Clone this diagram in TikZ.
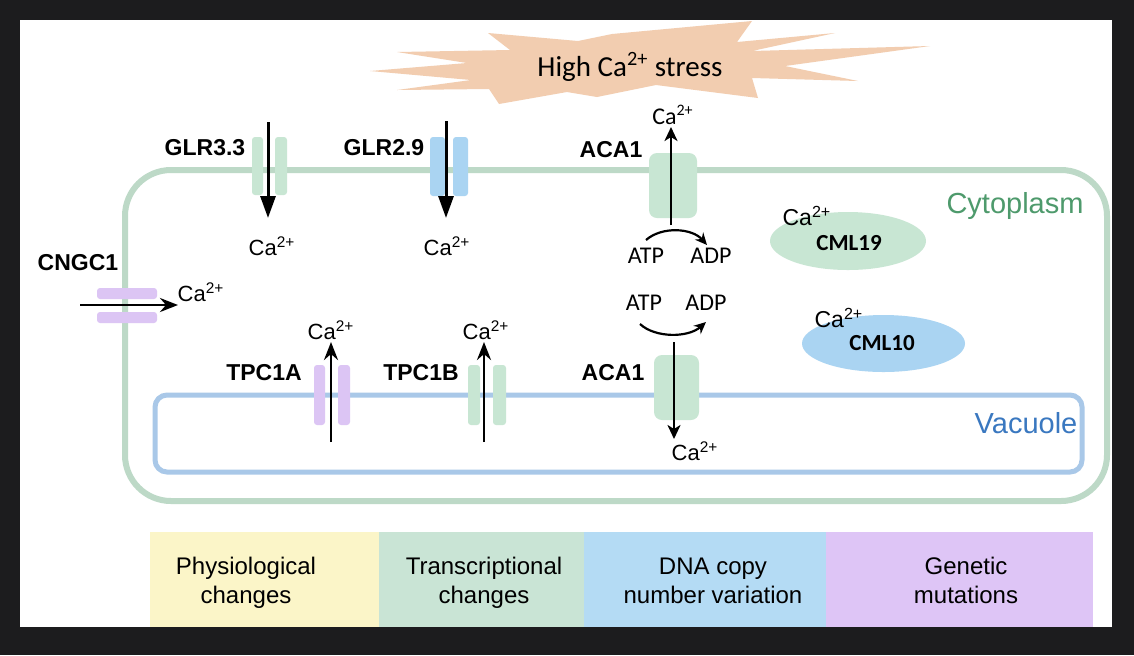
\documentclass[tikz,border=0pt]{standalone}
\usepackage{fontspec}
\setmainfont{Liberation Sans}
\newfontfamily\calfont{Carlito}
\usetikzlibrary{arrows.meta,shapes.geometric}
\definecolor{framec}{HTML}{1C1C1E}
\definecolor{cellg}{HTML}{BDD9C7}
\definecolor{vacb}{HTML}{A9C8E8}
\definecolor{chg}{HTML}{C8E6D3}
\definecolor{chb}{HTML}{AAD4F2}
\definecolor{chp}{HTML}{DCC5F4}
\definecolor{starc}{HTML}{F2CDB0}
\definecolor{boxy}{HTML}{FBF5C8}
\definecolor{boxg}{HTML}{C9E4D5}
\definecolor{boxb}{HTML}{B4DBF4}
\definecolor{boxp}{HTML}{DEC5F6}
\definecolor{cytoc}{HTML}{4E9A6C}
\definecolor{vacc}{HTML}{3A78C0}
\newcommand{\caion}{Ca\textsuperscript{2+}}
\tikzset{
  memb/.style={draw=cellg, line width=3pt, rounded corners=23pt},
  vacm/.style={draw=vacb, line width=2.5pt, rounded corners=6pt},
  bar/.style={rounded corners=1.5pt},
  pump/.style={rounded corners=4pt, fill=chg},
  flux/.style={line width=1.5pt, -{Triangle[length=11pt,width=7.5pt]}},
  fluxs/.style={line width=1.4pt, -{Stealth[length=9pt,width=7pt,inset=3pt]}},
  fluxp/.style={line width=1.4pt, -{Stealth[length=7pt,width=6.5pt,inset=2pt]}},
  curv/.style={line width=1.1pt, -{Stealth[length=6pt,width=5.5pt,inset=2pt]}},
  prot/.style={font=\fontsize{11.5}{13}\selectfont\bfseries, inner sep=0pt},
  ion/.style={font=\fontsize{11}{13}\selectfont, inner sep=0pt},
  ionl/.style={font=\fontsize{11.5}{13}\selectfont, inner sep=0pt},
  ionc/.style={font=\calfont\fontsize{12}{14}\selectfont, inner sep=0pt},
  nuc/.style={font=\calfont\fontsize{12}{14}\selectfont, inner sep=0pt},
  cml/.style={font=\calfont\fontsize{11.5}{13}\selectfont\bfseries, inner sep=0pt},
  boxtxt/.style={font=\fontsize{12}{14.5}\selectfont, align=center, inner sep=0pt},
  region/.style={font=\fontsize{14.5}{16}\selectfont, inner sep=0pt, anchor=base}
}
\begin{document}
\begin{tikzpicture}[x=0.5pt,y=-0.5pt]
\useasboundingbox (0,0) rectangle (1134,655);
\fill[framec] (0,0) rectangle (1134,655);
\fill[white] (20,20) rectangle (1112,627);

% star
\fill[starc] (752,21) -- (737,42) -- (835,33) -- (752,51) -- (930,46) -- (785,66)
  -- (858,81) -- (752,78) -- (758,98) -- (656,85) -- (597,97) -- (567,92)
  -- (499,104) -- (489,89) -- (397,90) -- (471,80) -- (370,71) -- (467,63)
  -- (397,52) -- (510,50) -- (488,33) -- (578,41) -- (612,34) -- cycle;
\node[font=\calfont\fontsize{14.5}{16}\selectfont, inner sep=0pt, anchor=base] (stress) at (630,76) {High \caion\ stress};

% membranes
\draw[memb] (125,170) rectangle (1107,501);
\draw[vacm] (155,395) rectangle (1082,472);

% plasma membrane channels
\fill[bar, chg] (252,137) rectangle (263,195);
\fill[bar, chg] (275,137) rectangle (287,195);
\fill[bar, chb] (430,137) rectangle (445,196);
\fill[bar, chb] (453,137) rectangle (468,196);
\fill[pump] (649,153) rectangle (697,218);
\fill[bar, chp] (97,288) rectangle (157,299);
\fill[bar, chp] (97,312) rectangle (157,323);

% vacuolar channels
\fill[bar, chp] (314,365) rectangle (325,425);
\fill[bar, chp] (338,365) rectangle (350,425);
\fill[bar, chg] (468,365) rectangle (480,425);
\fill[bar, chg] (493,365) rectangle (506,425);
\fill[pump] (654,355) rectangle (699,420);

% protein labels
\node[prot] (glr33) at (205,148) {GLR3.3};
\node[prot] (glr29) at (384,148) {GLR2.9};
\node[prot] (aca1u) at (611,150) {ACA1};
\node[prot] (cngc1) at (78,263) {CNGC1};
\node[prot] (tpc1a) at (264,373) {TPC1A};
\node[prot] (tpc1b) at (421,373) {TPC1B};
\node[prot] (aca1l) at (613,373) {ACA1};

% ion labels
\node[ion] (ca1) at (272,246) {\caion};
\node[ion] (ca2) at (447,246) {\caion};
\node[ion] (ca3) at (201,292) {\caion};
\node[ion] (ca4) at (331,330) {\caion};
\node[ion] (ca5) at (486,330) {\caion};
\node[ionc] (ca6) at (673,115) {\caion};
\node[ion] (ca7) at (695,451) {\caion};

% flux arrows
\coordinate (g1s) at (268,122); \coordinate (g1e) at (268,218);
\coordinate (g2s) at (446,121); \coordinate (g2e) at (446,218);
\coordinate (c1s) at (80,305);  \coordinate (c1e) at (178,305);
\coordinate (t1s) at (331,442); \coordinate (t1e) at (331,342);
\coordinate (t2s) at (484,442); \coordinate (t2e) at (484,342);
\coordinate (a1s) at (671,225); \coordinate (a1e) at (671,127);
\coordinate (a2s) at (674,342); \coordinate (a2e) at (674,439);
\draw[flux] (g1s) -- (g1e);
\draw[flux] (g2s) -- (g2e);
\draw[fluxs] (c1s) -- (c1e);
\draw[fluxs] (t1s) -- (t1e);
\draw[fluxs] (t2s) -- (t2e);
\draw[fluxp] (a1s) -- (a1e);
\draw[fluxp] (a2s) -- (a2e);

% ATP / ADP
\node[nuc] (atp1) at (646,256) {ATP};
\node[nuc] (adp1) at (711,256) {ADP};
\node[nuc] (atp2) at (644,303) {ATP};
\node[nuc] (adp2) at (706,303) {ADP};
\coordinate (u1) at (646,240); \coordinate (u2) at (707,245);
\draw[curv] (u1) .. controls (662,226) and (692,228) .. (u2);
\coordinate (l1) at (640,324); \coordinate (l2) at (706,322);
\draw[curv] (l1) .. controls (655,338) and (688,338) .. (l2);

% calmodulin-like proteins
\node[ellipse, fill=chg, draw=none, minimum width=78pt, minimum height=29pt, inner sep=0pt] (cml19) at (848,241) {};
\node[cml] (cml19t) at (849,243) {CML19};
\node[ionl] (ca8) at (807,216) {\caion};
\node[ellipse, fill=chb, draw=none, minimum width=81.5pt, minimum height=28.5pt, inner sep=0pt] (cml10) at (883.5,343.5) {};
\node[cml] (cml10t) at (882,343) {CML10};
\node[ionl] (ca9) at (839,318) {\caion};

% compartment labels
\node[region, text=cytoc] (cyto) at (1015,213) {Cytoplasm};
\node[region, text=vacc] (vac) at (1026,433) {Vacuole};

% bottom boxes
\fill[boxy] (150,532) rectangle (379,627);
\fill[boxg] (379,532) rectangle (584,627);
\fill[boxb] (584,532) rectangle (826,627);
\fill[boxp] (826,532) rectangle (1093,627);
\node[boxtxt] (b1) at (246,583) {\strut Physiological\\changes\strut};
\node[boxtxt] (b2) at (484,583) {\strut Transcriptional\\changes\strut};
\node[boxtxt] (b3) at (713,583) {\strut DNA copy\\number variation\strut};
\node[boxtxt] (b4) at (966,583) {\strut Genetic\\mutations\strut};
\end{tikzpicture}
\end{document}
